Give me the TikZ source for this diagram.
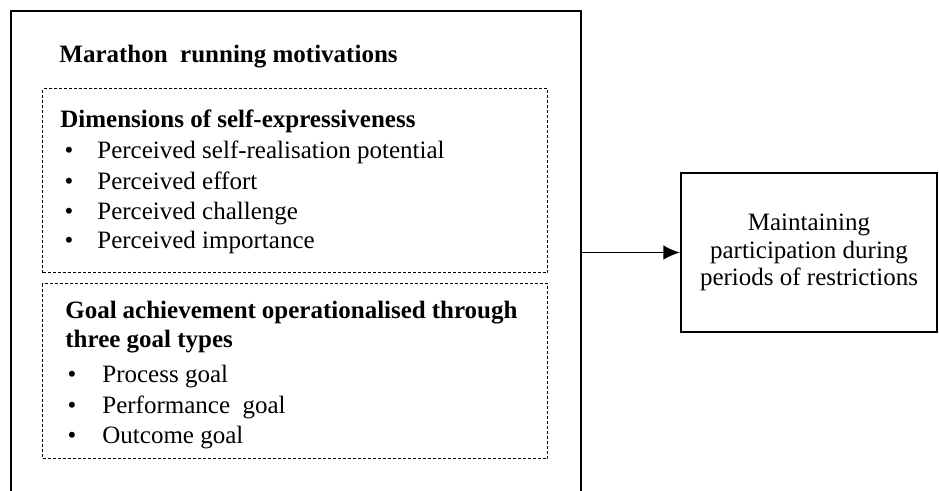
\documentclass[tikz,border=0pt,12pt]{standalone}
\usepackage{fontspec}
\setmainfont{Liberation Serif}
\usetikzlibrary{arrows.meta}
\tikzset{>={Latex[length=8pt, width=7pt]}}
\tikzset{
    box/.style={draw, line width=.9pt, inner sep=0, anchor=north west},
    dbox/.style={draw, line width=.7pt, dash pattern=on 1.5pt off .9pt, inner sep=0, anchor=north west},
    txt/.style={inner sep=0, anchor=base west},
    bul/.style={inner sep=0, anchor=base},
}

\begin{document}
\begin{tikzpicture}[x=.48pt, y=-.48pt]
    \useasboundingbox(0, 0)rectangle(939, 490);
    % frames
    \node[box, minimum width=273.6pt, minimum height=249.6pt](motiv) at(10, 10){};
    \node[dbox, minimum width=242.4pt, minimum height=88.3pt](dims) at(42, 88){};
    \node[dbox, minimum width=242.4pt, minimum height=84pt](goals) at(42, 283){};
    \node[box, anchor=center, minimum width=122.9pt, minimum height=76.3pt, align=center,
        font=\fontsize{12}{13.2}\selectfont](keep) at(809, 252.5)
        {Maintaining\\participation during\\periods of restrictions};
    % left column
    \node[txt, font=\bfseries](title) at(59, 62){Marathon~ running motivations};
    \node[txt, font=\bfseries](dimhead) at(60, 127){Dimensions of self-expressiveness};
    \foreach \y/\t [count=\i] in {158/self-realisation potential, 189/effort, 219/challenge, 248/importance}{
        \node[bul](dimb\i) at(69, \y){\textbullet};
        \node[txt](dim\i) at(97, \y){Perceived \t};
    }
    \node[txt, font=\bfseries](goalhead) at(65, 318){\makebox[217pt][s]{Goal achievement operationalised through}};
    \node[txt, font=\bfseries](goalhead2) at(65, 347){three goal types};
    \foreach \y/\t [count=\i] in {382/Process goal, 413/Performance~ goal, 443/Outcome goal}{
        \node[bul](goalb\i) at(72, \y){\textbullet};
        \node[txt](goal\i) at(102, \y){\t};
    }
    \draw[->, line width=.9pt](keep.west -| motiv.east)--(keep.west);
\end{tikzpicture}
\end{document}
